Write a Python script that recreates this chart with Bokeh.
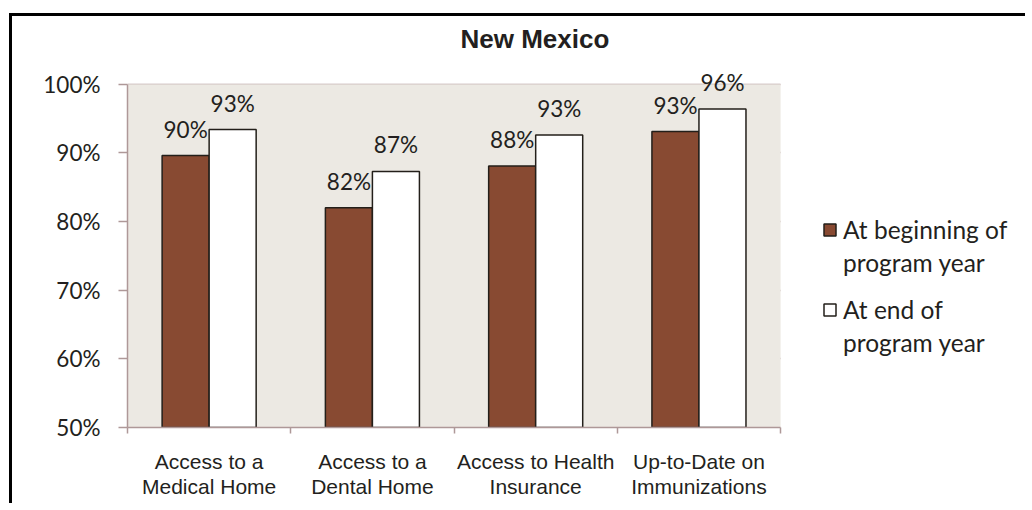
from bokeh.plotting import figure
from bokeh.models import (ColumnDataSource, FixedTicker, LabelSet, Legend, LegendItem,
                          PrintfTickFormatter, Range1d, BoxAnnotation)
from bokeh.core.properties import value
from bokeh.embed import file_html
from bokeh.resources import INLINE

# ---- data ----
categories = ["Access to a\nMedical Home", "Access to a\nDental Home",
              "Access to Health\nInsurance", "Up-to-Date on\nImmunizations"]
beginning = [89.6, 82.0, 88.1, 93.1]
end_year = [93.4, 87.3, 92.6, 96.4]
series_names = [["At beginning of", "program year"], ["At end of", "program year"]]
y_ticks = [50, 60, 70, 80, 90, 100]
title_text = "New Mexico"

# ---- style ----
BROWN = "#884A32"
BG = "#ECE9E3"
GRID = "#AE9898"
EDGE = "#231F1A"
TXT = "#231F20"
NUM_FONT = "Lato"
CAT_FONT = "Liberation Sans"

n = len(categories)
centers = [i + 0.5 for i in range(n)]
bw = 0.288

src_b = ColumnDataSource(dict(x=[c - bw / 2 for c in centers], top=beginning,
                              label=[f"{round(v)}%" for v in beginning]))
src_e = ColumnDataSource(dict(x=[c + bw / 2 for c in centers], top=end_year,
                              label=[f"{round(v)}%" for v in end_year]))

p = figure(width=1016, height=490, x_range=Range1d(0, n + 1.5),
           y_range=Range1d(y_ticks[0], 103.6),
           output_backend="svg", toolbar_location=None,
           min_border_left=115, min_border_right=3, min_border_top=42, min_border_bottom=79,
           background_fill_color="white", border_fill_color="white", outline_line_color=None,
           styles={"border-top": "3px solid #000", "border-left": "3px solid #000",
                   "margin-left": "9px", "margin-top": "13px"})

p.add_layout(BoxAnnotation(left=0, right=n, bottom=y_ticks[0], top=y_ticks[-1],
                           fill_color=BG, fill_alpha=1, line_color=None, level="underlay"))

rb = p.vbar(x="x", top="top", bottom=y_ticks[0], width=bw, source=src_b,
            fill_color=BROWN, line_color=EDGE, line_width=1.5)
re_ = p.vbar(x="x", top="top", bottom=y_ticks[0], width=bw, source=src_e,
             fill_color="white", line_color=EDGE, line_width=1.5)
# empty, invisible renderer used only for the second legend line of each entry
ghost = p.vbar(x=[], top=[], width=bw, fill_alpha=0, line_alpha=0)

for src in (src_b, src_e):
    p.add_layout(LabelSet(x="x", y="top", text="label", source=src, text_align="center",
                          text_baseline="alphabetic", y_offset=18,
                          text_font=value(NUM_FONT), text_font_size="22.5px", text_color=TXT))

# y axis
p.yaxis.ticker = FixedTicker(ticks=y_ticks, minor_ticks=[])
p.yaxis.bounds = (y_ticks[0], y_ticks[-1])
p.yaxis.formatter = PrintfTickFormatter(format="%d%%")
p.yaxis.axis_line_color = GRID
p.yaxis.axis_line_width = 1.5
p.yaxis.major_tick_line_color = GRID
p.yaxis.major_tick_line_width = 1.5
p.yaxis.major_tick_out = 9
p.yaxis.major_tick_in = 0
p.yaxis.major_label_text_font = NUM_FONT
p.yaxis.major_label_text_font_size = "22.5px"
p.yaxis.major_label_text_color = TXT
p.yaxis.major_label_standoff = 18

p.ygrid.grid_line_color = GRID
p.ygrid.grid_line_width = 1.5
g = p.ygrid[0]
if "cross_bounds" in g.properties():
    g.cross_bounds = (0, n)
p.xgrid.visible = False

# x axis
p.xaxis.ticker = FixedTicker(ticks=centers, minor_ticks=list(range(n + 1)))
p.xaxis.bounds = (0, n)
p.xaxis.major_label_overrides = {c: cat for c, cat in zip(centers, categories)}
p.xaxis.axis_line_color = GRID
p.xaxis.axis_line_width = 1.5
p.xaxis.major_tick_line_color = None
p.xaxis.major_tick_out = 0
p.xaxis.major_tick_in = 0
p.xaxis.minor_tick_line_color = GRID
p.xaxis.minor_tick_line_width = 1.5
p.xaxis.minor_tick_out = 6
p.xaxis.minor_tick_in = 0
p.xaxis.major_label_text_font = CAT_FONT
p.xaxis.major_label_text_font_size = "21px"
p.xaxis.major_label_text_line_height = 1.1
p.xaxis.major_label_text_color = TXT
p.xaxis.major_label_standoff = 16

# title
p.title.text = title_text
p.title.text_font = CAT_FONT
p.title.text_font_style = "bold"
p.title.text_font_size = "26px"
p.title.text_color = TXT
p.title.align = "left"
p.title.offset = 333
p.title.standoff = 11

# legend: one legend block per series, first line carries the swatch
for (line1, line2), r, y in ((series_names[0], rb, 150), (series_names[1], re_, 70)):
    lg = Legend(items=[LegendItem(label=line1, renderers=[r]),
                       LegendItem(label=line2, renderers=[ghost])],
                location=(695, y), padding=0, margin=0, spacing=4,
                glyph_width=15, glyph_height=15, label_standoff=6,
                label_text_font=NUM_FONT, label_text_font_size="24.5px", label_text_color=TXT,
                border_line_color=None, background_fill_alpha=0)
    p.add_layout(lg)

open("out.html", "w").write(file_html(p, INLINE))
